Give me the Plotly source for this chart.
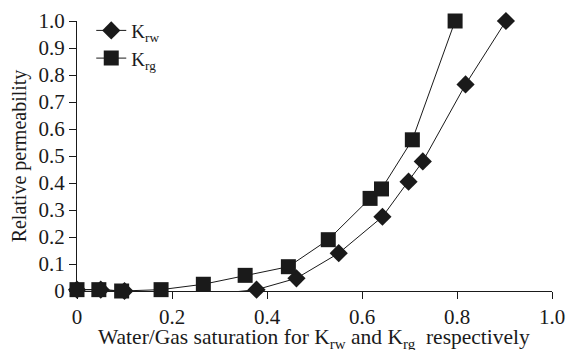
import plotly.graph_objects as go

krw_x = [0, 0.05, 0.1, 0.2, 0.294, 0.378, 0.462, 0.551, 0.643, 0.698, 0.728, 0.818, 0.903]
krw_y = [0.005, 0.005, 0.0, -0.01, -0.01, 0.005, 0.047, 0.14, 0.275, 0.405, 0.48, 0.765, 1.0]
krg_x = [0, 0.046, 0.094, 0.177, 0.266, 0.354, 0.445, 0.529, 0.617, 0.641, 0.706, 0.796]
krg_y = [0.005, 0.005, 0.0, 0.005, 0.025, 0.058, 0.09, 0.19, 0.343, 0.378, 0.56, 1.0]

x_ticks = [0, 0.2, 0.4, 0.6, 0.8, 1.0]
x_tick_text = ["0", "0.2", "0.4", "0.6", "0.8", "1.0"]
y_ticks = [0, 0.1, 0.2, 0.3, 0.4, 0.5, 0.6, 0.7, 0.8, 0.9, 1.0]
y_tick_text = ["0", "0.1", "0.2", "0.3", "0.4", "0.5", "0.6", "0.7", "0.8", "0.9", "1.0"]
x_title = "Water/Gas saturation for K<sub>rw</sub> and K<sub>rg</sub>  respectively"
y_title = "Relative permeability"

FONT = "Liberation Serif, Times New Roman, serif"

fig = go.Figure()
fig.add_trace(go.Scatter(
    x=krw_x, y=krw_y, mode="lines+markers", name="K<sub>rw</sub>",
    line=dict(color="#1a1a1a", width=1),
    marker=dict(symbol="diamond", size=14, color="#1a1a1a"),
    cliponaxis=False,
))
fig.add_trace(go.Scatter(
    x=krg_x, y=krg_y, mode="lines+markers", name="K<sub>rg</sub>",
    line=dict(color="#1a1a1a", width=1),
    marker=dict(symbol="square", size=15, color="#1a1a1a"),
    cliponaxis=False,
))

fig.add_annotation(
    text=x_title, xref="paper", yref="paper", x=(314 - 77) / 475, y=(291 - 323) / 270,
    xanchor="center", yanchor="top", showarrow=False,
    font=dict(size=21.5, family=FONT, color="#1a1a1a"),
)

fig.update_layout(
    width=567, height=350,
    margin=dict(l=77, r=15, t=21, b=59, autoexpand=False),
    paper_bgcolor="white", plot_bgcolor="white",
    font=dict(family=FONT, size=19, color="#1a1a1a"),
    showlegend=True,
    legend=dict(x=0.03, y=1.035, xanchor="left", yanchor="top",
                bgcolor="rgba(0,0,0,0)", font=dict(size=19, family=FONT),
                tracegroupgap=0),
    xaxis=dict(
        range=[0, 1.0], tickvals=x_ticks, ticktext=x_tick_text, automargin=False,
        showgrid=False, zeroline=False, showline=True, linecolor="#1a1a1a", linewidth=1,
        ticks="outside", ticklen=7, tickcolor="#1a1a1a", tickfont=dict(size=21, family=FONT),
    ),
    yaxis=dict(
        range=[0, 1.0], tickvals=y_ticks, ticktext=y_tick_text, automargin=False,
        showgrid=False, zeroline=False, showline=True, linecolor="#1a1a1a", linewidth=1,
        ticks="outside", ticklen=7, tickcolor="#1a1a1a", tickfont=dict(size=21, family=FONT),
        title=dict(text=y_title, font=dict(size=20, family=FONT), standoff=6),
    ),
)

fig.write_html("out.html")
